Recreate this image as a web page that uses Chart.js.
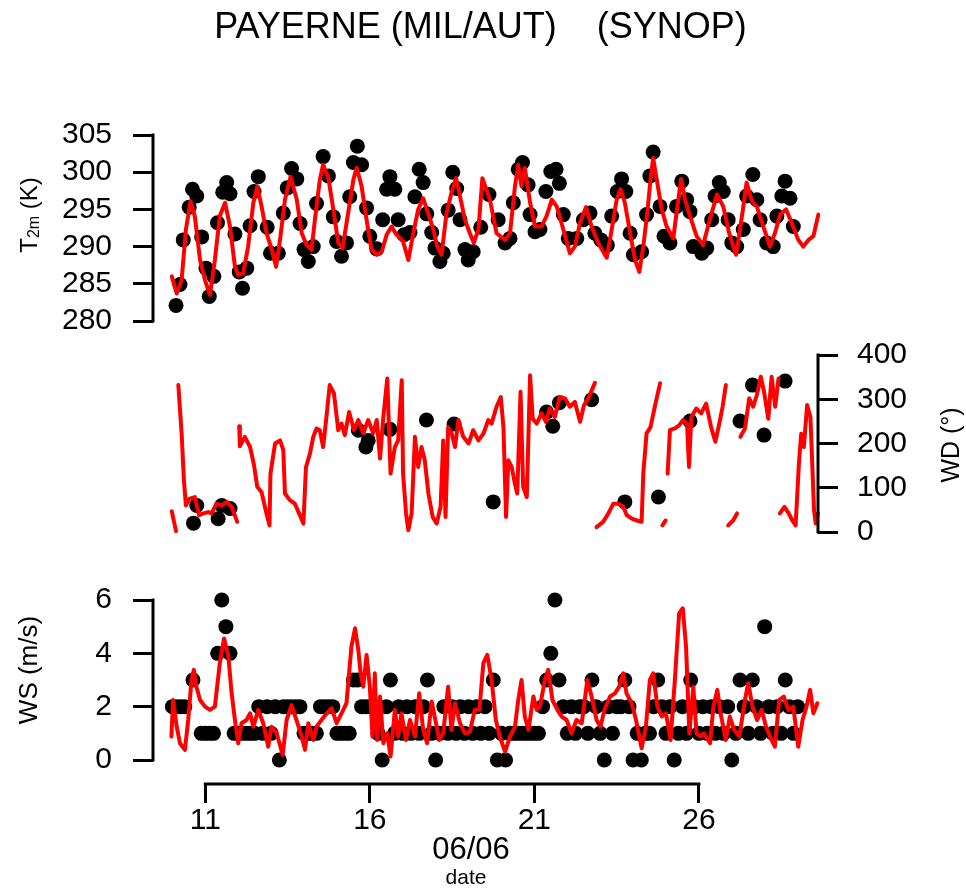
<!DOCTYPE html>
<html>
<head>
<meta charset="utf-8">
<title>PAYERNE (MIL/AUT) (SYNOP)</title>
<script src="https://cdn.jsdelivr.net/npm/chart.js@4.4.0/dist/chart.umd.min.js"></script>
<style>
  html, body { margin: 0; padding: 0; background: #fff; }
  #page { position: relative; width: 966px; height: 890px; overflow: hidden; }
  #page canvas { position: absolute; left: 0; }
</style>
</head>
<body>
<div id="page">
  <canvas id="chartT" width="966" height="340" style="top:0"></canvas>
  <canvas id="chartWD" width="966" height="220" style="top:330px"></canvas>
  <canvas id="chartWS" width="966" height="340" style="top:550px"></canvas>
</div>
<script>
// Datos (dia de junio, UTC)
const xMin = 9.41;
const xMax = 29.62;
const dayTicks = [11, 16, 21, 26];
const tTicks = [280, 285, 290, 295, 300, 305];
const wdTicks = [0, 100, 200, 300, 400];
const wsTicks = [0, 2, 4, 6];

// Temperatura 2 m - modelo (linea roja)
const tModelDays = [
  9.98, 10.13, 10.28, 10.41, 10.55, 10.68, 10.84, 10.99, 11.14, 11.29,
  11.44, 11.6, 11.75, 11.9, 12.0, 12.15, 12.3, 12.46, 12.58, 12.71,
  12.86, 13.02, 13.15, 13.27, 13.42, 13.59, 13.78, 13.93, 14.08, 14.23,
  14.33, 14.48, 14.58, 14.74, 14.89, 15.04, 15.17, 15.34, 15.5, 15.6,
  15.75, 15.9, 16.05, 16.21, 16.36, 16.51, 16.66, 16.81, 17.01, 17.17,
  17.32, 17.47, 17.62, 17.77, 17.93, 18.05, 18.18, 18.33, 18.49, 18.62,
  18.74, 18.89, 19.04, 19.16, 19.3, 19.42, 19.65, 19.85, 20.11, 20.26,
  20.41, 20.51, 20.61, 20.71, 20.87, 21.02, 21.22, 21.37, 21.53, 21.68,
  21.88, 22.08, 22.23, 22.39, 22.57, 22.74, 22.94, 23.2, 23.35, 23.5,
  23.62, 23.75, 23.91, 24.06, 24.19, 24.31, 24.43, 24.53, 24.61, 24.72,
  24.87, 25.02, 25.22, 25.32, 25.46, 25.58, 25.73, 25.93, 26.13, 26.33,
  26.55, 26.74, 26.92, 27.13, 27.25, 27.35, 27.45, 27.61, 27.76, 27.96,
  28.16, 28.31, 28.47, 28.65, 28.82, 29.02, 29.17, 29.33, 29.48, 29.63
];
const tModel = [
  286.0, 283.7, 285.5, 292.3, 296.1, 294.1, 288.2, 285.5, 283.5, 288.2,
  294.1, 295.9, 292.7, 287.3, 286.2, 286.4, 290.0, 295.9, 298.1, 295.4,
  291.8, 289.6, 287.3, 290.9, 296.3, 299.4, 296.3, 291.8, 290.2, 289.6,
  293.6, 299.0, 301.0, 299.2, 295.0, 290.5, 289.8, 294.5, 299.0, 300.6,
  298.1, 293.6, 289.6, 288.9, 289.3, 291.6, 292.7, 291.6, 290.7, 288.2,
  291.8, 295.0, 296.5, 294.5, 292.3, 290.0, 288.9, 294.5, 297.4, 299.2,
  296.8, 293.6, 291.8, 290.5, 292.3, 299.2, 296.3, 291.8, 290.9, 291.8,
  298.1, 301.0, 298.1, 300.6, 295.9, 292.7, 292.7, 294.1, 296.3, 295.4,
  292.3, 289.1, 290.0, 293.2, 295.3, 292.7, 290.5, 288.5, 292.3, 296.3,
  297.7, 295.9, 291.8, 288.2, 286.6, 290.0, 294.5, 299.0, 301.9, 299.0,
  295.0, 292.7, 291.1, 294.5, 299.1, 296.3, 294.1, 291.4, 290.2, 293.6,
  297.0, 295.4, 291.8, 288.9, 292.3, 295.4, 298.6, 296.1, 295.4, 292.7,
  290.0, 291.8, 294.3, 295.0, 293.2, 290.9, 290.0, 290.9, 291.4, 294.3
];

// Temperatura 2 m - observaciones SYNOP (puntos negros)
const tObsDays = [
  10.11, 10.23, 10.33, 10.51, 10.61, 10.74, 10.89, 11.02, 11.12, 11.26,
  11.37, 11.53, 11.65, 11.75, 11.9, 12.03, 12.13, 12.26, 12.36, 12.48,
  12.61, 12.88, 12.98, 13.22, 13.37, 13.49, 13.62, 13.78, 13.88, 14.0,
  14.13, 14.28, 14.38, 14.58, 14.74, 14.89, 14.99, 15.14, 15.29, 15.39,
  15.5, 15.62, 15.75, 15.9, 16.0, 16.21, 16.39, 16.51, 16.61, 16.76,
  16.86, 17.04, 17.22, 17.37, 17.5, 17.62, 17.73, 17.88, 17.98, 18.13,
  18.23, 18.38, 18.52, 18.64, 18.74, 18.89, 18.99, 19.14, 19.37, 19.62,
  19.9, 20.11, 20.26, 20.36, 20.51, 20.64, 20.81, 20.87, 21.02, 21.17,
  21.35, 21.5, 21.66, 21.76, 21.88, 22.03, 22.29, 22.49, 22.69, 22.84,
  23.02, 23.22, 23.35, 23.52, 23.65, 23.78, 23.91, 24.01, 24.26, 24.41,
  24.51, 24.61, 24.82, 24.94, 25.12, 25.32, 25.48, 25.63, 25.73, 25.83,
  26.09, 26.24, 26.39, 26.49, 26.62, 26.74, 26.89, 27.0, 27.15, 27.35,
  27.45, 27.64, 27.76, 27.86, 28.06, 28.26, 28.37, 28.52, 28.62, 28.77,
  28.87
];
const tObs = [
  282.1, 284.9, 290.9, 295.3, 297.7, 296.8, 291.3, 287.1, 283.3, 286.0,
  293.2, 297.3, 298.6, 297.1, 291.7, 286.6, 284.4, 287.1, 292.8, 297.4,
  299.4, 292.6, 289.1, 289.1, 294.5, 297.9, 300.5, 299.1, 293.1, 289.6,
  288.0, 290.0, 295.8, 302.1, 299.5, 294.0, 290.7, 288.7, 290.5, 296.7,
  301.3, 303.5, 301.0, 295.2, 291.4, 289.7, 293.6, 297.7, 299.4, 297.7,
  293.6, 291.6, 291.9, 296.7, 300.4, 298.6, 294.4, 291.9, 289.8, 288.0,
  289.1, 294.9, 300.0, 297.8, 293.6, 289.6, 288.2, 289.3, 292.6, 297.0,
  293.6, 290.5, 291.1, 295.9, 300.4, 301.3, 298.3, 294.3, 292.0, 292.3,
  297.4, 300.1, 300.4, 298.5, 294.3, 291.1, 291.1, 293.6, 294.5, 291.8,
  290.9, 290.2, 294.1, 297.4, 299.1, 297.4, 291.8, 288.9, 289.3, 294.3,
  299.5, 302.7, 295.4, 291.4, 290.5, 295.4, 298.8, 296.3, 294.7, 290.0,
  289.1, 289.8, 293.6, 296.8, 298.6, 297.4, 293.6, 290.5, 290.0, 292.3,
  296.8, 299.7, 296.3, 293.6, 290.5, 290.0, 294.1, 296.8, 298.8, 296.5,
  292.7
];

// Direccion del viento - modelo (null = tramo sin datos)
const wdModelDays = [
  9.98, 10.11, 10.15,
  10.18, 10.28, 10.35, 10.41, 10.51, 10.68, 10.81, 10.94, 11.09, 11.19, 11.34, 11.5, 11.65, 11.8, 11.97, 12.0,
  12.03, 12.05, 12.2, 12.36, 12.48, 12.58, 12.71, 12.81, 12.95, 12.98,
  13.12, 13.27, 13.37, 13.42, 13.57, 13.72, 13.85, 13.98, 14.06, 14.18,
  14.28, 14.38, 14.48, 14.58, 14.66, 14.78, 14.91, 15.04, 15.14, 15.24,
  15.37, 15.52, 15.65, 15.8, 15.95, 16.1, 16.21, 16.31, 16.41, 16.53,
  16.63, 16.76, 16.86, 16.97, 17.01, 17.1, 17.17, 17.27, 17.37, 17.47,
  17.57, 17.67, 17.78, 17.91, 18.03, 18.15, 18.23, 18.3, 18.38, 18.49,
  18.59, 18.69, 18.84, 19.0, 19.14, 19.3, 19.45, 19.6, 19.7, 19.85,
  19.98, 20.06, 20.14, 20.21, 20.31, 20.41, 20.48, 20.58, 20.66, 20.77,
  20.87, 20.95, 21.07, 21.22, 21.35, 21.47, 21.62, 21.77, 21.93, 22.08,
  22.23, 22.39, 22.51, 22.64, 22.84, 22.86,
  22.89, 23.09, 23.25, 23.4, 23.55, 23.7, 23.81, 23.96, 24.11, 24.26, 24.31, 24.41, 24.53, 24.66, 24.82, 24.85,
  24.89, 24.99, 25.02,
  25.05, 25.12, 25.27, 25.4, 25.52, 25.64, 25.7, 25.77, 25.92, 26.07, 26.22, 26.37, 26.5, 26.62, 26.72, 26.82, 26.85,
  26.89, 27.04, 27.16, 27.2,
  27.26, 27.4, 27.53, 27.65, 27.76, 27.88, 27.98, 28.11, 28.21, 28.32, 28.42, 28.44,
  28.46, 28.6, 28.73, 28.84, 28.94, 29.04, 29.11, 29.19, 29.29, 29.39, 29.5, 29.55, 29.62
];
const wdModel = [
  47, 2, null,
  332, 223, 117, 60, 75, 79, 38, 42, 45, 42, 64, 60, 68, 57, 23, null,
  239, 194, 215, 192, 151, 102, 90, 57, 15, 132,
  200, 207, 185, 87, 72, 64, 42, 19, 147, 177,
  215, 234, 230, 192, 245, 332, 313, 230, 245, 219,
  271, 230, 253, 223, 253, 223, 253, 166, 260, 347,
  132, 192, 207, 343, 132, 42, 4, 42, 215, 147,
  192, 162, 87, 34, 19, 57, 207, 34, 237, 222,
  192, 253, 215, 200, 230, 207, 222, 253, 245, 283,
  305, 237, 34, 162, 147, 109, 87, 317, 102, 79,
  354, 256, 245, 268, 249, 279, 260, 305, 302, 283,
  294, 249, 287, 302, 337, null,
  11, 23, 42, 64, 64, 57, 38, 30, 26, 23, 132, 223, 237, 283, 336, null,
  15, 26, null,
  132, 230, 234, 241, 253, 245, 147, 260, 279, 268, 290, 237, 204, 245, 283, 332, null,
  15, 26, 42, null,
  215, 234, 302, 283, 309, 351, 317, 256, 351, 283, 347, null,
  42, 57, 42, 26, 15, 155, 222, 192, 287, 260, 49, 19, 42
];

// Direccion del viento - observaciones
const wdObsDays = [10.64, 10.74, 11.39, 11.5, 11.75, 15.65, 15.88, 15.95, 16.61, 17.72, 18.56, 19.75,
  21.37, 21.56, 21.76, 22.74, 23.75, 24.77, 25.73, 27.25, 27.63, 27.98, 28.62];
const wdObs = [20, 60, 30, 60, 53, 230, 192, 207, 232, 253, 244, 68,
  271, 239, 292, 299, 68, 79, 251, 251, 332, 219, 341];

// Velocidad del viento - modelo
const wsModelDays = [
  9.97, 10.02, 10.13, 10.23, 10.38, 10.48, 10.58, 10.65, 10.73, 10.84,
  10.99, 11.14, 11.29, 11.44, 11.57, 11.7, 11.8, 11.9, 12.0, 12.1,
  12.25, 12.36, 12.46, 12.61, 12.76, 12.91, 13.01, 13.17, 13.35, 13.47,
  13.62, 13.77, 13.93, 14.03, 14.13, 14.28, 14.38, 14.53, 14.69, 14.84,
  14.99, 15.14, 15.29, 15.44, 15.55, 15.65, 15.72, 15.8, 15.9, 16.0,
  16.08, 16.15, 16.22, 16.31, 16.41, 16.53, 16.63, 16.76, 16.86, 16.96,
  17.1, 17.22, 17.37, 17.5, 17.62, 17.74, 17.88, 18.01, 18.11, 18.23,
  18.38, 18.48, 18.59, 18.74, 18.89, 19.04, 19.19, 19.33, 19.45, 19.57,
  19.7, 19.83, 19.95, 20.11, 20.26, 20.41, 20.51, 20.61, 20.71, 20.82,
  20.97, 21.07, 21.17, 21.32, 21.42, 21.55, 21.7, 21.83, 21.98, 22.13,
  22.28, 22.44, 22.61, 22.74, 22.89, 23.01, 23.13, 23.3, 23.45, 23.58,
  23.7, 23.8, 23.96, 24.09, 24.26, 24.39, 24.51, 24.61, 24.74, 24.87,
  25.0, 25.14, 25.27, 25.4, 25.51, 25.61, 25.71, 25.83, 25.93, 26.05,
  26.15, 26.34, 26.44, 26.56, 26.66, 26.82, 26.94, 27.07, 27.23, 27.4,
  27.5, 27.63, 27.77, 27.91, 28.04, 28.16, 28.31, 28.44, 28.58, 28.72,
  28.87, 29.02, 29.15, 29.27, 29.38, 29.48, 29.6
];
const wsModel = [
  0.88, 2.25, 1.25, 0.63, 0.38, 1.5, 3.0, 3.38, 2.75, 2.25,
  2.0, 1.88, 2.0, 3.63, 4.56, 3.88, 2.5, 1.5, 0.63, 1.38,
  1.5, 1.75, 1.25, 1.88, 1.38, 0.5, 1.25, 1.0, 0.19, 1.5,
  2.06, 1.5, 0.88, 0.38, 1.38, 0.75, 1.25, 1.5, 1.75, 1.94,
  1.38, 1.75, 2.13, 4.25, 4.94, 4.13, 3.25, 2.75, 3.94, 2.75,
  0.88, 3.25, 0.75, 2.38, 0.63, 1.0, 0.13, 1.88, 0.88, 1.75,
  0.75, 1.5, 0.88, 2.5, 1.13, 0.63, 2.19, 1.38, 0.75, 1.0,
  2.75, 1.13, 2.13, 1.38, 1.0, 1.06, 1.88, 1.88, 3.63, 3.94,
  3.0, 1.5, 0.88, 0.31, 0.88, 1.25, 2.25, 3.0, 1.63, 1.13,
  2.38, 1.88, 2.0, 3.0, 3.38, 2.25, 1.88, 1.63, 1.5, 1.0,
  1.5, 1.38, 3.0, 2.38, 1.5, 1.25, 1.88, 2.38, 2.5, 2.75,
  3.25, 2.5, 2.13, 1.5, 0.44, 1.25, 3.0, 3.25, 2.0, 1.63,
  1.75, 0.75, 3.0, 5.5, 5.69, 4.25, 1.0, 2.75, 1.0, 0.88,
  1.0, 0.63, 2.0, 2.63, 1.75, 0.75, 1.63, 1.13, 0.88, 2.25,
  2.88, 2.0, 1.5, 1.88, 1.25, 0.88, 0.5, 2.25, 2.38, 1.88,
  2.0, 0.5, 1.5, 2.0, 2.63, 1.75, 2.13
];

// Velocidad del viento - observaciones (cada 3 h)
const wsObsDays = [
  10.0, 10.125, 10.25, 10.375, 10.625, 10.875, 11.0, 11.125, 11.25, 11.375,
  11.5, 11.625, 11.75, 11.875, 12.0, 12.125, 12.25, 12.375, 12.5, 12.625,
  12.75, 12.875, 13.0, 13.125, 13.25, 13.375, 13.5, 13.625, 13.75, 13.875,
  14.0, 14.125, 14.25, 14.375, 14.5, 14.625, 14.75, 14.875, 15.0, 15.125,
  15.25, 15.375, 15.5, 15.625, 15.75, 15.875, 16.0, 16.125, 16.25, 16.375,
  16.5, 16.625, 16.75, 16.875, 17.0, 17.125, 17.25, 17.375, 17.5, 17.625,
  17.75, 17.875, 18.0, 18.125, 18.25, 18.375, 18.5, 18.625, 18.75, 18.875,
  19.0, 19.125, 19.25, 19.375, 19.5, 19.625, 19.75, 19.875, 20.0, 20.125,
  20.25, 20.375, 20.5, 20.625, 20.75, 20.875, 21.0, 21.125, 21.25, 21.375,
  21.5, 21.625, 21.75, 21.875, 22.0, 22.125, 22.25, 22.375, 22.5, 22.625,
  22.75, 22.875, 23.0, 23.125, 23.25, 23.375, 23.5, 23.625, 23.75, 23.875,
  24.0, 24.125, 24.25, 24.375, 24.5, 24.625, 24.75, 24.875, 25.0, 25.125,
  25.25, 25.375, 25.5, 25.625, 25.75, 25.875, 26.0, 26.125, 26.25, 26.375,
  26.5, 26.625, 26.75, 26.875, 27.0, 27.125, 27.25, 27.375, 27.5, 27.625,
  27.75, 27.875, 28.0, 28.125, 28.25, 28.375, 28.5, 28.625, 28.75, 28.875,
  29.0
];
const wsObs = [
  2, 2, 2, 2, 3, 1, 1, 1, 1, 4,
  6, 5, 4, 1, 1, 1, 1, 1, 1, 2,
  1, 2, 1, 2, 0, 2, 2, 2, 2, 2,
  1, 1, 1, 1, 2, 2, 2, 2, 1, 1,
  1, 1, 3, 3, 2, 2, 2, 2, 1, 0,
  2, 3, 1, 2, 1, 2, 1, 2, 1, 2,
  3, 1, 0, 1, 2, 1, 2, 1, 2, 1,
  2, 1, 2, 1, 2, 1, 3, 0, 1, 0,
  1, 1, 1, 1, 1, 1, 1, 1, 2, 3,
  4, 6, 3, 2, 1, 2, 1, 2, 2, 1,
  3, 2, 1, 0, 2, 1, 2, 2, 3, 2,
  0, 1, 0, 1, 1, 2, 3, 2, 1, 2,
  0, 1, 2, 1, 3, 2, 1, 2, 1, 2,
  1, 2, 1, 2, 0, 1, 3, 2, 1, 3,
  2, 1, 5, 2, 1, 2, 1, 3, 2, 1,
  2
];

const FONT = "'Liberation Sans', Arial, Helvetica, sans-serif";
const RED = '#ff0000';

function pts(days, vals) {
    return days.map((d, i) => ({ x: d, y: vals[i] }));
}

// Textos sueltos (titulo y titulos de ejes) dibujados en el canvas
const sideLabels = {
    id: 'sideLabels',
    afterDraw(chart, args, opts) {
        const ctx = chart.ctx;
        (opts.items || []).forEach(item => {
            ctx.save();
            ctx.translate(item.x, item.y);
            ctx.rotate((item.rot || 0) * Math.PI / 180);
            ctx.fillStyle = '#000';
            ctx.textBaseline = 'middle';
            ctx.textAlign = 'left';
            let total = 0;
            item.parts.forEach(p => {
                ctx.font = p.size + 'px ' + FONT;
                p.w = ctx.measureText(p.text).width;
                total += p.w;
            });
            let cx = -total / 2;
            item.parts.forEach(p => {
                ctx.font = p.size + 'px ' + FONT;
                ctx.fillText(p.text, cx, p.dy || 0);
                cx += p.w;
            });
            ctx.restore();
        });
    }
};

// Linea de eje estilo R: solo entre el primer y el ultimo tick
const rAxisLines = {
    id: 'rAxisLines',
    afterDraw(chart, args, opts) {
        const ctx = chart.ctx;
        ctx.save();
        ctx.strokeStyle = '#000';
        ctx.lineWidth = 3;
        ctx.lineCap = 'square';
        (opts.lines || []).forEach(l => {
            const s = chart.scales[l.scale];
            const a = s.getPixelForValue(l.from);
            const b = s.getPixelForValue(l.to);
            ctx.beginPath();
            if (s.isHorizontal()) {
                ctx.moveTo(a, s.top);
                ctx.lineTo(b, s.top);
            } else {
                const x = s.position === 'left' ? s.right : s.left;
                ctx.moveTo(x, a);
                ctx.lineTo(x, b);
            }
            ctx.stroke();
        });
        ctx.restore();
    }
};

function valueAxis(values, min, max, position, width, padding) {
    return {
        type: 'linear',
        position: position,
        min: min,
        max: max,
        afterBuildTicks: s => { s.ticks = values.map(v => ({ value: v })); },
        afterFit: s => {
            s.width = width;
            s.paddingTop = 0;
            s.paddingBottom = 0;
        },
        border: { display: false },
        grid: { display: true, drawOnChartArea: false, drawTicks: true, tickLength: 20, tickWidth: 3, tickColor: '#000' },
        ticks: { color: '#000', font: { family: FONT, size: 30, lineHeight: 1.2 }, padding: padding, autoSkip: false }
    };
}

const hiddenX = { type: 'linear', display: false, min: xMin, max: xMax };

function modelSet(days, vals) {
    return {
        data: pts(days, vals),
        borderColor: RED,
        borderWidth: 4,
        pointRadius: 0,
        tension: 0,
        fill: false,
        borderJoinStyle: 'round',
        borderCapStyle: 'round',
        clip: false
    };
}

function obsSet(days, vals) {
    return {
        data: pts(days, vals),
        showLine: false,
        pointRadius: 7.5,
        pointHoverRadius: 7.5,
        pointBackgroundColor: '#000',
        pointBorderWidth: 0,
        clip: false
    };
}

const common = {
    responsive: false,
    animation: false,
    events: []
};

// Panel 1: temperatura
new Chart(document.getElementById('chartT'), {
    type: 'line',
    data: { datasets: [modelSet(tModelDays, tModel), obsSet(tObsDays, tObs)] },
    options: Object.assign({}, common, {
        layout: { padding: { top: 135, left: 43, right: 148, bottom: 19 } },
        scales: { x: hiddenX, y: valueAxis(tTicks, 280, 305, 'left', 110, 21) },
        plugins: {
            legend: { display: false },
            tooltip: { enabled: false },
            rAxisLines: { lines: [{ scale: 'y', from: 280, to: 305 }] },
            sideLabels: { items: [
                { x: 480.5, y: 28, rot: 0, parts: [{ text: 'PAYERNE (MIL/AUT)    (SYNOP)', size: 36 }] },
                { x: 30, y: 215, rot: -90, parts: [
                    { text: 'T', size: 24 },
                    { text: '2m', size: 16, dy: 5 },
                    { text: ' (K)', size: 24 }
                ] }
            ] }
        }
    }),
    plugins: [rAxisLines, sideLabels]
});

// Panel 2: direccion del viento (eje a la derecha)
new Chart(document.getElementById('chartWD'), {
    type: 'line',
    data: { datasets: [modelSet(wdModelDays, wdModel), obsSet(wdObsDays, wdObs)] },
    options: Object.assign({}, common, {
        layout: { padding: { top: 25, left: 153, right: 0, bottom: 18 } },
        scales: { x: hiddenX, y: valueAxis(wdTicks, 0, 400, 'right', 148, 19) },
        plugins: {
            legend: { display: false },
            tooltip: { enabled: false },
            rAxisLines: { lines: [{ scale: 'y', from: 0, to: 400 }] },
            sideLabels: { items: [
                { x: 952, y: 115, rot: -90, parts: [{ text: 'WD (°)', size: 25 }] }
            ] }
        }
    }),
    plugins: [rAxisLines, sideLabels]
});

// Panel 3: velocidad del viento + eje de fechas
new Chart(document.getElementById('chartWS'), {
    type: 'line',
    data: { datasets: [modelSet(wsModelDays, wsModel), obsSet(wsObsDays, wsObs)] },
    options: Object.assign({}, common, {
        layout: { padding: { top: 50, left: 43, right: 148, bottom: 0 } },
        scales: {
            x: {
                type: 'linear',
                position: 'bottom',
                min: xMin,
                max: xMax,
                afterBuildTicks: s => { s.ticks = dayTicks.map(v => ({ value: v })); },
                afterFit: s => {
                    s.height = 106;
                    s.paddingLeft = 0;
                    s.paddingRight = 0;
                },
                border: { display: false },
                grid: { display: true, drawOnChartArea: false, drawTicks: true, tickLength: 19, tickWidth: 3, tickColor: '#000' },
                ticks: { color: '#000', font: { family: FONT, size: 30, lineHeight: 1.2 }, padding: 0, autoSkip: false, maxRotation: 0 }
            },
            y: valueAxis(wsTicks, -0.9, 6, 'left', 110, 21)
        },
        plugins: {
            legend: { display: false },
            tooltip: { enabled: false },
            rAxisLines: { lines: [
                { scale: 'y', from: 0, to: 6 },
                { scale: 'x', from: 11, to: 26 }
            ] },
            sideLabels: { items: [
                { x: 30, y: 120, rot: -90, parts: [{ text: 'WS (m/s)', size: 26 }] },
                { x: 471, y: 300, rot: 0, parts: [{ text: '06/06', size: 31 }] },
                { x: 466, y: 328, rot: 0, parts: [{ text: 'date', size: 21 }] }
            ] }
        }
    }),
    plugins: [rAxisLines, sideLabels]
});
</script>
</body>
</html>
